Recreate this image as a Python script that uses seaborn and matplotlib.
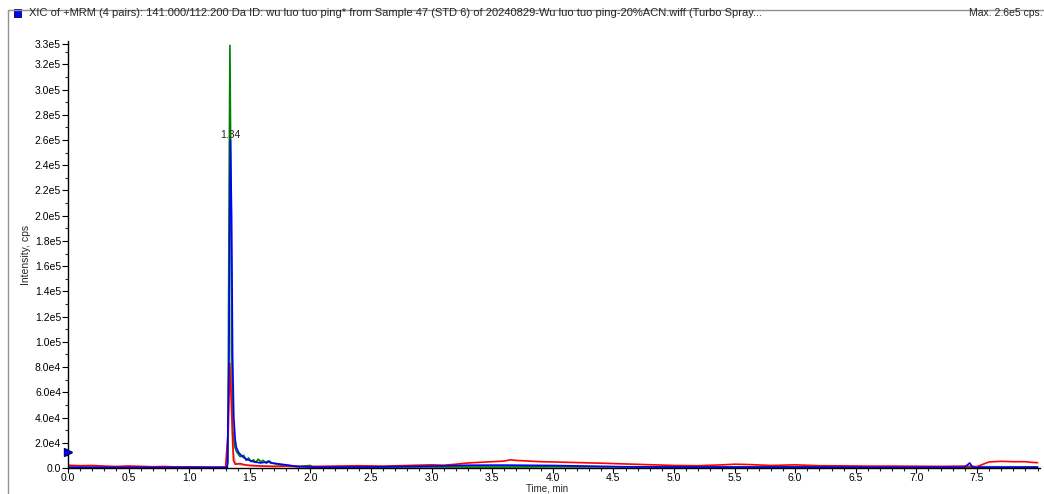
import matplotlib
matplotlib.use("Agg")
import matplotlib.pyplot as plt
from matplotlib.lines import Line2D
from matplotlib.patches import Rectangle
from matplotlib.ticker import FixedLocator, MultipleLocator
import seaborn as sns
import pandas as pd

# --- chromatogram traces (time in min, intensity in cps) ---
green_t = [0.0, 0.3, 0.6, 0.9, 1.2, 1.31, 1.32, 1.328, 1.336, 1.344, 1.352, 1.36, 1.375,
           1.39, 1.42, 1.45, 1.47, 1.49, 1.51, 1.53, 1.55, 1.57, 1.59, 1.61, 1.63, 1.65,
           1.67, 1.70, 1.75, 1.80, 1.90, 2.00, 2.02, 2.10, 2.5, 3.0, 3.5, 4.0, 4.5, 5.0,
           5.5, 6.0, 6.5, 7.0, 7.4, 7.5, 8.0]
green_i = [300, 400, 300, 300, 300, 300, 5000, 200000, 335000, 230000, 90000, 30000, 17000,
           13000, 9000, 10000, 6000, 8000, 5000, 6500, 4500, 7000, 5000, 6000, 4500, 5500,
           4000, 3500, 2500, 2000, 1200, 2000, 800, 700, 800, 900, 800, 1000, 900, 700, 800,
           900, 800, 700, 800, 600, 700]

blue_t = [0.0, 0.3, 0.6, 0.9, 1.2, 1.315, 1.328, 1.34, 1.35, 1.358, 1.368, 1.38, 1.39,
          1.41, 1.44, 1.47, 1.50, 1.53, 1.56, 1.59, 1.62, 1.64, 1.66, 1.68, 1.72, 1.76,
          1.80, 1.85, 1.90, 2.0, 2.1, 2.5, 3.0, 3.3, 3.6, 4.0, 4.3, 4.6, 5.0, 5.5, 6.0,
          6.5, 7.0, 7.40, 7.44, 7.46, 7.49, 7.52, 8.0]
blue_i = [600, 500, 500, 500, 500, 500, 90000, 260000, 200000, 90000, 40000, 22000, 16000,
          12000, 9000, 7000, 6000, 5000, 4500, 4000, 4500, 4000, 5500, 4000, 3500, 3000,
          2500, 1800, 1200, 800, 700, 800, 1500, 2200, 2300, 2000, 1500, 1000, 800, 700,
          700, 600, 600, 700, 4000, 1200, 200, 600, 600]

red_t = [0.0, 0.1, 0.2, 0.3, 0.4, 0.5, 0.6, 0.7, 0.8, 0.9, 1.0, 1.1, 1.2, 1.3, 1.322,
         1.335, 1.35, 1.365, 1.38, 1.42, 1.46, 1.5, 1.6, 1.7, 1.8, 1.9, 2.0, 2.2, 2.4, 2.6,
         2.8, 3.0, 3.1, 3.2, 3.3, 3.4, 3.5, 3.6, 3.65, 3.7, 3.8, 3.9, 4.0, 4.2, 4.4, 4.6,
         4.8, 5.0, 5.2, 5.4, 5.5, 5.6, 5.8, 6.0, 6.2, 6.4, 6.6, 6.8, 7.0, 7.2, 7.4, 7.5,
         7.55, 7.6, 7.7, 7.8, 7.9, 7.95, 8.0]
red_i = [2200, 1800, 2000, 1500, 1200, 1600, 1300, 1000, 1200, 800, 900, 700, 600, 600,
         30000, 83000, 45000, 6000, 3000, 3500, 2500, 2000, 1500, 1200, 1500, 1000, 1200,
         1500, 1800, 1500, 2000, 2500, 2200, 3000, 4000, 4500, 5000, 5500, 6500, 6000, 5500,
         5000, 4800, 4300, 3800, 3200, 2600, 2000, 1800, 2500, 3000, 2800, 2000, 2500, 1800,
         1700, 1500, 1500, 1400, 1300, 1500, 1000, 3000, 4800, 5300, 5000, 5000, 4500, 4200]

gray_t = [0.0, 0.6, 1.2, 1.31, 1.322, 1.332, 1.345, 1.36, 1.38, 1.42, 1.5, 1.7, 2.0, 3.0,
          4.0, 5.0, 6.0, 7.0, 7.4, 7.5, 8.0]
gray_i = [800, 700, 700, 700, 20000, 130000, 80000, 15000, 4000, 2500, 2000, 1500, 1000,
          900, 800, 800, 900, 900, 900, 1200, 900]

peak_time = 1.34
peak_height = 260000
threshold = 12600

y_ticks = [0, 20000, 40000, 60000, 80000, 100000, 120000, 140000, 160000, 180000, 200000,
           220000, 240000, 260000, 280000, 300000, 320000, 336000]
y_labels = ["0.0", "2.0e4", "4.0e4", "6.0e4", "8.0e4", "1.0e5", "1.2e5", "1.4e5", "1.6e5",
            "1.8e5", "2.0e5", "2.2e5", "2.4e5", "2.6e5", "2.8e5", "3.0e5", "3.2e5", "3.3e5"]
x_ticks = [0.0, 0.5, 1.0, 1.5, 2.0, 2.5, 3.0, 3.5, 4.0, 4.5, 5.0, 5.5, 6.0, 6.5, 7.0, 7.5]

title_text = ("XIC of +MRM (4 pairs): 141.000/112.200 Da ID: wu luo tuo ping* from Sample 47 "
              "(STD 6) of 20240829-Wu luo tuo ping-20%ACN.wiff (Turbo Spray...")
max_text = "Max. 2.6e5 cps."

sns.set_style("white")
plt.rcParams["font.family"] = ["Liberation Sans", "DejaVu Sans"]

W, H = 1044, 494
fig = plt.figure(figsize=(W / 100, H / 100), dpi=100)
ax = fig.add_axes([68 / W, 26 / H, (1040 - 68) / W, (468 - 41) / H])

traces = [
    (gray_t, gray_i, "#b4b4b4"),
    (green_t, green_i, "#008000"),
    (red_t, red_i, "#ff0000"),
    (blue_t, blue_i, "#0000ff"),
]
for t, i, c in traces:
    df = pd.DataFrame({"t": t, "i": i})
    sns.lineplot(data=df, x="t", y="i", color=c, lw=1.2, estimator=None, sort=False, ax=ax)

ax.set_xlim(0, 8.02)
ax.set_ylim(0, 338500)

ax.yaxis.set_major_locator(FixedLocator(y_ticks))
ax.set_yticklabels(y_labels)
ax.yaxis.set_minor_locator(MultipleLocator(10000))
ax.xaxis.set_major_locator(FixedLocator(x_ticks))
ax.set_xticklabels([f"{v:.1f}" for v in x_ticks])
ax.xaxis.set_minor_locator(MultipleLocator(0.1))

ax.tick_params(which="major", direction="out", length=4, width=0.8, labelsize=7.5,
               pad=1, colors="black", left=True, bottom=True)
ax.tick_params(axis="x", which="major", length=3.5, pad=0)
ax.tick_params(which="minor", direction="out", length=2, width=0.8, left=True, bottom=True)

for side in ["top", "right"]:
    ax.spines[side].set_visible(False)
for side in ["left", "bottom"]:
    ax.spines[side].set_color("black")
    ax.spines[side].set_linewidth(1.0)

ax.set_xlabel("")
ax.set_ylabel("Intensity, cps", fontsize=7.5, labelpad=3)
fig.text(547 / W, 0.5 / H, "Time, min", ha="center", va="bottom", fontsize=7)

# retention-time label at the apex
ax.text(peak_time, peak_height, f"{peak_time:.2f}", ha="center", va="bottom", fontsize=7.5)

# threshold marker on the y axis
ax.plot([-0.002], [threshold], marker=">", color="#0000ff", markeredgecolor="#000080",
        markersize=6, clip_on=False, zorder=5)

# panel frame and header
fig.add_artist(Line2D([8 / W, 1.0], [1 - 10 / H, 1 - 10 / H], color="#909090", lw=1.0))
fig.add_artist(Line2D([8 / W, 8 / W], [0, 1 - 10 / H], color="#909090", lw=1.0))
fig.add_artist(Rectangle((14 / W, 1 - 17 / H), 7 / W, 8 / H, facecolor="#0000ff",
                         edgecolor="#000060", lw=0.6))
fig.text(29 / W, 1 - 13.5 / H, title_text, ha="left", va="center", fontsize=8)
fig.text(1043 / W, 1 - 13.5 / H, max_text, ha="right", va="center", fontsize=7.5)

fig.savefig("out.png", dpi=100)
